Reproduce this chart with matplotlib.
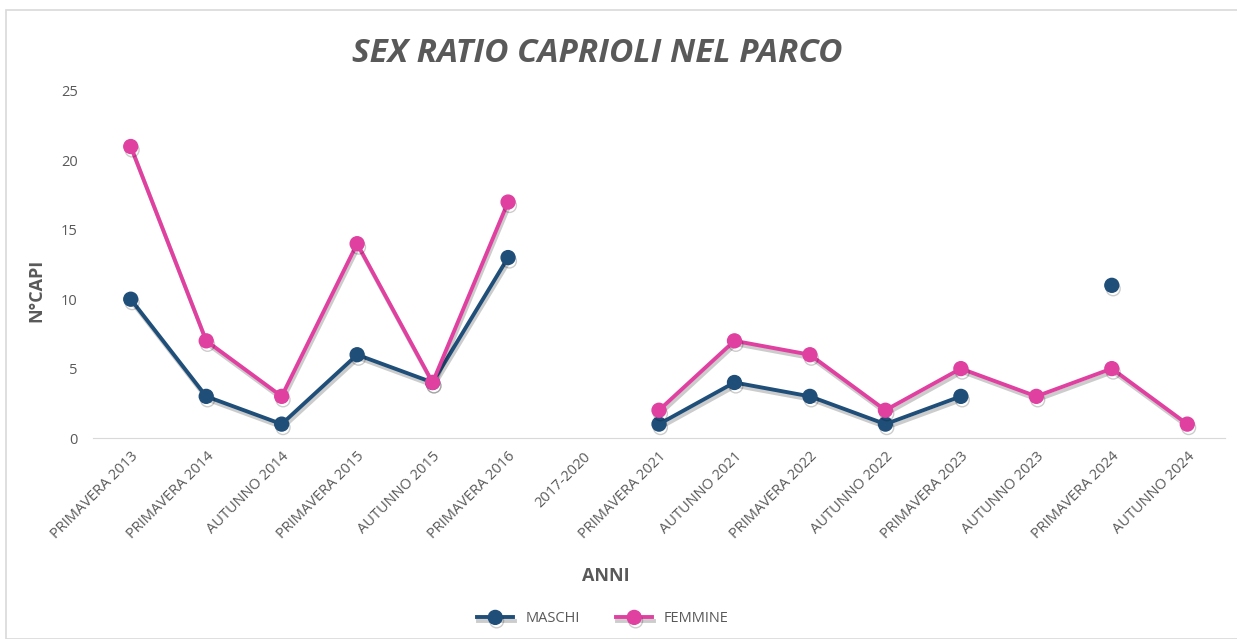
import matplotlib.pyplot as plt
import matplotlib.patheffects as pe
from matplotlib.patches import Rectangle
import numpy as np

categorie = ['PRIMAVERA 2013', 'PRIMAVERA 2014', 'AUTUNNO 2014', 'PRIMAVERA 2015',
             'AUTUNNO 2015', 'PRIMAVERA 2016', '2017-2020', 'PRIMAVERA 2021',
             'AUTUNNO 2021', 'PRIMAVERA 2022', 'AUTUNNO 2022', 'PRIMAVERA 2023',
             'AUTUNNO 2023', 'PRIMAVERA 2024', 'AUTUNNO 2024']
maschi = [10, 3, 1, 6, 4, 13, np.nan, 1, 4, 3, 1, 3, np.nan, 11, np.nan]
femmine = [21, 7, 3, 14, 4, 17, np.nan, 2, 7, 6, 2, 5, 3, 5, 1]

plt.rcParams['font.family'] = ['Open Sans', 'DejaVu Sans']
grigio = '#595959'

fig = plt.figure(figsize=(12.37, 6.39), dpi=100)
ax = fig.add_axes([93 / 1237, 1 - 438 / 639, 1132 / 1237, 347 / 639])

# bordo del grafico
fig.patches.append(Rectangle((6 / 1237, 0), 1.0, 1 - 10 / 639, transform=fig.transFigure,
                             fill=False, edgecolor='#d9d9d9', linewidth=1.2))

x = np.arange(len(categorie))
ombra = [pe.SimpleLineShadow(offset=(1, -2.5), alpha=0.2), pe.Normal()]
ax.plot(x, maschi, color='#1F4E79', linewidth=2.8, marker='o', markersize=10,
        label='MASCHI', path_effects=ombra)
ax.plot(x, femmine, color='#E040A0', linewidth=2.8, marker='o', markersize=10,
        label='FEMMINE', path_effects=ombra)

ax.set_xlim(-0.5, len(categorie) - 0.5)
ax.set_ylim(0, 25)
ax.set_yticks([0, 5, 10, 15, 20, 25])
ax.set_xticks(x)
ax.set_xticklabels(categorie, rotation=45, ha='right', rotation_mode='anchor')
ax.tick_params(axis='both', length=0, colors=grigio, labelsize=10.5)
ax.tick_params(axis='y', pad=11)
ax.tick_params(axis='x', pad=8)

for s in ['top', 'right', 'left']:
    ax.spines[s].set_visible(False)
ax.spines['bottom'].set_color('#d9d9d9')

fig.text(36 / 1237, 1 - 290 / 639, 'N°CAPI', fontsize=13, fontweight='bold',
         color=grigio, ha='center', va='center', rotation=90)
fig.text(606 / 1237, 1 - 576 / 639, 'ANNI', fontsize=13, fontweight='bold',
         color=grigio, ha='center', va='center')
fig.text(597 / 1237, 1 - 53 / 639, 'SEX RATIO CAPRIOLI NEL PARCO', fontsize=24,
         fontweight='bold', fontstyle='italic', color=grigio, ha='center', va='center')

leg = fig.legend(loc='center', bbox_to_anchor=(603 / 1237, 1 - 619 / 639), ncol=2,
                 frameon=False, fontsize=10.5, handlelength=2.5, columnspacing=2.5)
for t in leg.get_texts():
    t.set_color(grigio)

plt.savefig('out.png', dpi=100)
